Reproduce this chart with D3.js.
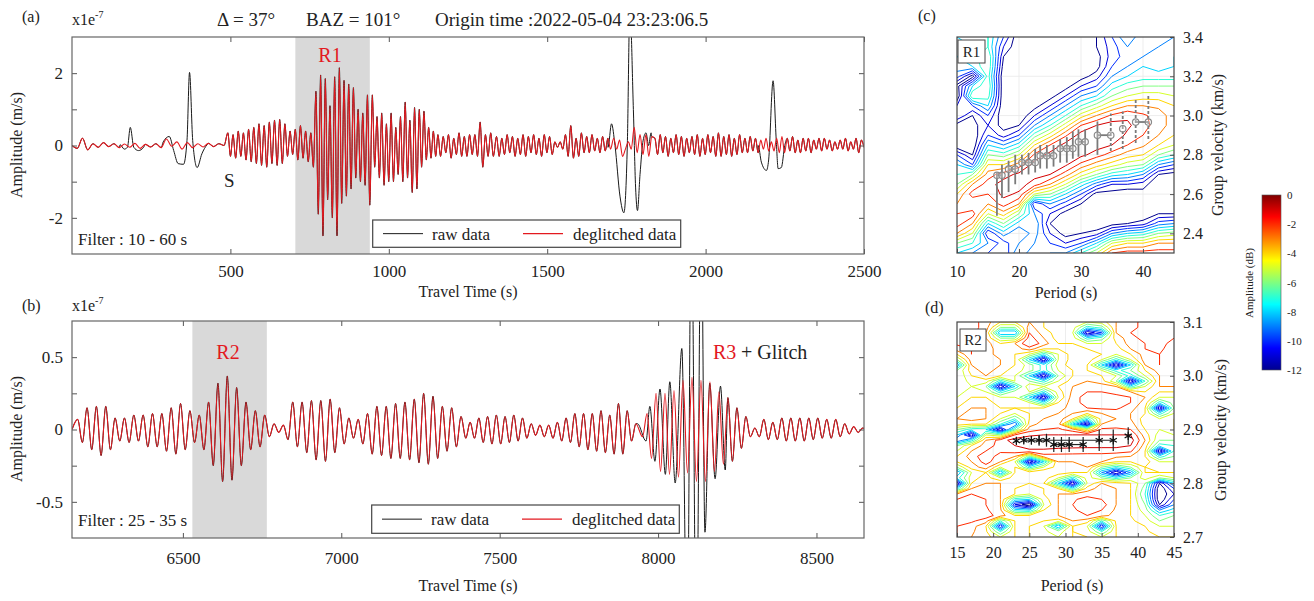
<!DOCTYPE html>
<html>
<head>
<meta charset="utf-8">
<script src="https://cdn.jsdelivr.net/npm/d3@7"></script>
<style>
  body { margin: 0; background: #fff; }
  svg, svg text { font-family: "Liberation Serif", "DejaVu Serif", serif; }
</style>
</head>
<body>
<svg id="fig" width="1314" height="601"></svg>
<script>
var SERIF = '"Liberation Serif","DejaVu Serif",serif';

// ---------- panel (a): deglitched trace, extrema per time window ----------
var redA = [
  {t0: 0, t1: 480, v: [0,-0.08,0.2,-0.12,0.05,-0.05,0.08,-0.03,0.05,-0.06,0.04,-0.05,0.06,-0.08,0.03,-0.04,0.05,-0.06,0.18,-0.02,0.1,-0.1,0.08,-0.06,0.05,-0.04,0.06,-0.03,0.05,0]},
  {t0: 492, t1: 762, v: [0.35,-0.3,0.3,-0.35,0.4,-0.3,0.35,-0.4,0.45,-0.45,0.5,-0.5,0.6,-0.55,0.55,-0.6,0.65,-0.5,0.7,-0.55,0.72,-0.5,0.6,-0.3,0.4,-0.25,0.45,-0.4,0.55,-0.35,0.4,-0.45,0.35,-0.6]},
  {t0: 770, t1: 940, v: [1.5,-1.9,1.95,-2.5,1.85,-1.5,1.1,-2.0,1.9,-2.5,2.15,-1.6,1.8,-1.4,1.7,-1.2,1.6,-0.9,1.0,-1.0,0.9,-1.1,1.4,-1.65]},
  {t0: 948, t1: 1148, v: [1.4,-0.6,0.8,-0.9,0.9,-1.1,0.6,-1.0,0.9,-1.0,0.5,-0.8,0.8,-1.0,1.2,-0.9,0.7,-1.3,1.05,-1.2,1.0,-0.6,0.95,-0.4,0.5,-0.35,0.4,-0.3]},
  {t0: 1155, t1: 1330, v: [0.3,-0.3,0.25,-0.2,0.3,-0.35,0.2,-0.25,0.35,-0.3,0.25,-0.3,0.3,-0.25,0.3,-0.3,0.65,-0.6,0.3,-0.3,0.35,-0.3]},
  {t0: 1340, t1: 1700, v: [0.25,-0.3,0.2,-0.25,0.3,-0.2,0.25,-0.3,0.2,-0.25,0.3,-0.3,0.25,-0.2,0.3,-0.25,0.2,-0.3,0.3,-0.2,0.25,-0.25,0.1,-0.05,0.1,-0.1,0.3,-0.3,0.55,-0.35,0.2,-0.3,0.35,-0.2,0.25,-0.2,0.3,-0.15,0.2,-0.2,0.25,-0.15,0.2,-0.1]},
  {t0: 1710, t1: 1830, v: [0.2,-0.1,0.15,-0.3,-0.1,0.1,-0.1,0.5,-0.2,0.3,-0.25,0.3,-0.3,0.25]},
  {t0: 1840, t1: 2500, v: [0.2,-0.25,0.3,-0.2,0.25,-0.3,0.2,-0.2,0.3,-0.25,0.25,-0.3,0.2,-0.2,0.25,-0.25,0.3,-0.3,0.2,-0.25,
                           0.3,-0.2,0.25,-0.3,0.35,-0.3,0.25,-0.25,0.3,-0.3,0.2,-0.25,0.3,-0.2,0.2,-0.2,0.25,-0.15,0.2,-0.2,
                           0.15,-0.1,0.2,-0.15,0.1,-0.15,0.2,-0.2,0.25,-0.2,0.2,-0.15,0.25,-0.2,0.15,-0.2,0.2,-0.15,0.2,-0.2,
                           0.15,-0.1,0.2,-0.15,0.2,-0.1,0.15,-0.15,0.1,-0.1,0.15,-0.1,0.2,-0.15,0.1,-0.1,0.2,-0.2,0.15,-0.05]}
];
// raw data where it departs from the deglitched trace: [time, amplitude]
var glitchA = [
  [[152,0.02],[165,-0.1],[175,-0.05],[184,0.5],[195,-0.05],[210,-0.14],[226,-0.05]],
  [[288,0.1],[307,0.25],[321,-0.14],[335,-0.5],[352,-0.52],[363,0.14],[371,2.02],[381,0.14],[395,-0.61],[410,-0.23],[426,0.02]],
  [[1692,-0.05],[1703,0.6],[1714,0],[1730,-1.42],[1742,-1.86],[1753,0.05],[1761,3.8],[1772,1.0],[1779,-1.15],[1785,-1.8],[1793,-0.8],[1803,0.15],[1812,0.35],[1820,0.0],[1828,0.35]],
  [[2166,0],[2176,-0.46],[2192,-0.69],[2199,-0.4],[2213,1.79],[2223,0.14],[2229,-0.64],[2239,-0.61],[2250,0]]
];

// ---------- panel (b) ----------
var redB = [
  {t0: 6150, t1: 6150, v: [0]},
  {t0: 6168, t1: 7378, v: [0.07,-0.09,0.15,-0.14,0.16,-0.18,0.16,-0.14,0.08,-0.08,0.08,-0.09,0.10,-0.08,0.10,-0.12,0.11,-0.12,0.11,-0.15,
                           0.15,-0.17,0.18,-0.14,0.13,-0.09,0.10,-0.14,0.19,-0.25,0.32,-0.36,0.37,-0.35,0.29,-0.25,0.19,-0.14,0.13,-0.12,
                           0.10,-0.05,0.04,-0.02,0.03,-0.07,0.19,-0.12,0.19,-0.16,0.20,-0.21,0.20,-0.22,0.21,-0.16,0.15,-0.10,0.08,-0.06,
                           0.07,-0.10,0.11,-0.17,0.16,-0.18,0.16,-0.20,0.18,-0.20,0.19,-0.21,0.21,-0.23,0.25,-0.24,0.23,-0.20,0.16,-0.15,
                           0.15,-0.12,0.09]},
  {t0: 7393, t1: 7930, v: [-0.06,0.05,-0.06,0.08,-0.09,0.09,-0.10,0.10,-0.10,0.09,-0.09,0.10,-0.08,0.08,-0.06,0.04,-0.04,0.03,-0.05,0.03,
                           -0.06,0.05,-0.08,0.08,-0.09,0.11,-0.12,0.11,-0.14,0.11,-0.15,0.13,-0.16,0.10,-0.17,0.18,-0.17,0.13,-0.08,0.04]},
  {t0: 7951, t1: 8660, v: [-0.05,0.11,-0.20,0.25,-0.29,0.25,-0.31,0.27,-0.33,0.34,-0.30,0.36,-0.36,0.34,-0.36,0.33,-0.29,0.26,-0.24,0.22,
                           -0.22,0.15,-0.13,0.09,-0.05,0.01,-0.05,0.07,-0.07,0.05,-0.07,0.08,-0.08,0.08,-0.08,0.08,-0.08,0.08,-0.07,0.08,
                           -0.06,0.07,-0.06,0.07,-0.05,0.04,-0.03,0.02,-0.02,0.01,-0.01]}
];
var glitchB = [
  [[7935,0.04],[7962,-0.08],[7974,0.16],[7990,-0.22],[8006,0.28],[8023,-0.31],[8037,0.33],[8054,-0.37],[8075,0.56],
   [8092,-1.6],[8105,1.6],[8121,-1.6],[8136,1.6],[8148,-0.71],[8163,0.32],[8180,-0.34],[8197,0.3],[8212,-0.28]]
];

var shadeA = [705, 940], shadeB = [6530, 6765];
var xTicksA = [500, 1000, 1500, 2000, 2500], xTicksB = [6500, 7000, 7500, 8000, 8500];
var yTicksA = [-2, -1, 0, 1, 2], yTicksB = [-0.5, -0.25, 0, 0.25, 0.5];

// ---------- panel (c): amplitude (dB), one column per period 10..45 step 2.5, velocity 3.40 -> 2.30 step 0.05 ----------
var cPeriods = [10,12.5,15,17.5,20,22.5,25,27.5,30,32.5,35,37.5,40,42.5,45];
var cGrid = [
  [-8,-8.5,-8,-8.5,-9.5,-12.5,-13,-11,-10,-12.5,-13,-13,-10,-8,-7,-6,-4,-3,-2,-1.5,-3,-6,-8],
  [-7.5,-8,-7.5,-8,-12.5,-8,-6,-10,-12,-12.5,-13,-13,-12,-10,-6,-3,-1.5,-3,-1.5,-3,-5,-7,-9],
  [-7,-7,-6,-6,-6.5,-6,-6.5,-8,-10,-11,-10,-8,-6,-4,-2.5,-1.5,-2,-3,-5,-8,-11,-9,-10],
  [-10,-11,-12,-12.5,-13,-13,-13,-13,-13,-12.5,-11.5,-9,-6.5,-4,-1.5,-0.5,-0.7,-1.5,-3.5,-6,-8.5,-10.5,-11],
  [-13,-13,-13,-13,-13,-13,-13,-13,-13,-12,-10,-7.5,-5,-2.5,-0.7,-0.5,-1.2,-3,-6,-8.5,-10,-9,-8],
  [-13,-13,-13,-13,-13,-13,-13,-12.5,-11,-9,-6.5,-4,-1.8,-0.5,-0.6,-1.5,-5,-11,-9,-8,-8.5,-9,-10],
  [-13,-13,-13,-13,-13,-13,-12.5,-11,-9,-7,-4.5,-2,-0.6,-0.4,-1,-3,-6,-9,-11,-12,-11,-10,-9],
  [-13,-13,-13,-13,-13,-12.5,-11,-9,-7,-4.5,-2.2,-0.6,-0.3,-0.8,-2.5,-5,-8,-10.5,-12.5,-13,-12.5,-11,-9],
  [-13,-13,-13,-13,-12.5,-11,-9,-7,-4.5,-2,-0.5,-0.2,-0.7,-2.3,-4.5,-7.5,-10,-12,-13,-13,-12,-10,-7],
  [-12,-12,-12.5,-12.5,-11.5,-10,-8,-5.5,-3,-1,-0.2,-0.5,-1.5,-3.5,-6,-9.5,-12.5,-13,-13,-13,-11.5,-8,-5],
  [-10,-10.5,-10.5,-10,-9,-7.5,-6,-4,-1.8,-0.5,-0.3,-1,-2.5,-4.5,-7.5,-11,-12.5,-13,-13,-12.5,-9,-5,-2],
  [-8,-9,-9.5,-9,-8,-6.5,-5,-3,-1.2,-0.8,-1.2,-2,-3.5,-5.5,-8,-11,-13,-13,-13,-12,-8,-4,-1.5],
  [-10,-9.5,-9,-8,-7.5,-6,-4.5,-3,-1.8,-1.6,-2,-2.8,-4,-6,-9,-11.5,-12.5,-13,-13,-11.5,-7.5,-4,-1.5],
  [-9.5,-9,-8.5,-8.5,-7.5,-6,-4.5,-3.2,-2.5,-2.5,-3,-4,-6,-9,-12,-13,-13,-13,-12,-9.5,-6,-3,-1.5],
  [-9,-8.5,-8,-8,-7.5,-6,-5,-4,-3.5,-3.5,-4,-5,-7,-10,-12.5,-13,-13,-13,-12,-9,-5.5,-3,-1.5]
];
var cPer = [16.44,17.25,18.32,19.39,20.47,21.54,22.61,23.42,24.49,25.57,26.64,27.71,28.68,29.59,30.67,32.65,34.80,36.73,38.82,40.86];
var cVel = [2.696,2.696,2.727,2.727,2.761,2.761,2.761,2.795,2.795,2.795,2.832,2.832,2.832,2.866,2.866,2.9,2.9,2.933,2.967,2.967];
var cLo  = [2.49,2.58,2.61,2.65,2.70,2.70,2.71,2.73,2.73,2.74,2.76,2.76,2.78,2.79,2.79,2.80,2.82,2.83,2.86,2.88];
var cHi  = [2.71,2.75,2.77,2.80,2.80,2.81,2.83,2.85,2.85,2.85,2.88,2.89,2.92,2.93,2.93,2.97,3.01,3.02,3.08,3.11];
var cDashed = [0,0,0,0,0,0,0,0,0,0,0,0,0,0,0,0,1,1,1,1];

// ---------- panel (d): one row per velocity 3.10 -> 2.70 step 0.01, period 15..45 step 2 ----------
var dPeriods = [15,17,19,21,23,25,27,29,31,33,35,37,39,41,43,45];
var dGrid = [
  [-1.5,-1.5,-2.5,-4,-4,-3,-4,-4.5,-4,-5,-4.5,-3,-2.5,-1.5,-1.2,-1.5],
  [-1.3,-1.5,-2.5,-6,-6,-2.5,-4,-4.5,-4.5,-7.5,-6.5,-3,-2.5,-1.5,-1,-1.5],
  [-1.2,-1.5,-3,-9,-9,-2,-3.5,-4.5,-5,-12,-10,-3,-2,-1.5,-1,-2],
  [-1.3,-1.5,-3,-6,-6,-1.5,-3,-4.5,-4.5,-7.5,-6.5,-3.5,-2.5,-1.5,-1.2,-2],
  [-1.8,-1.5,-2.5,-4,-3,-1,-2.5,-4,-4,-5,-5,-4,-2.5,-2,-1.5,-2.5],
  [-2.5,-2,-2.5,-3.5,-3.5,-2.5,-4,-4,-3.8,-4,-4.5,-4.5,-3,-2,-1.8,-2.5],
  [-4,-2,-2.5,-3.5,-4,-5,-7.5,-5,-3.5,-3.5,-4,-5,-4,-2.5,-2,-2.5],
  [-6,-2.5,-2,-3,-4,-8,-12,-5,-3.5,-3.5,-5,-7.5,-5,-2.5,-2,-2.5],
  [-9,-3,-2,-3,-4,-5.5,-7.5,-4.5,-3.5,-4,-8,-12,-8,-3,-2,-2.5],
  [-6,-3.5,-2.5,-3.5,-4.5,-5.5,-7.5,-5,-4,-4,-5,-7.5,-6,-4,-2.5,-2.5],
  [-6,-4,-3,-4,-5,-8,-12,-6,-4,-3.5,-4,-5,-7.5,-5,-3,-2.5],
  [-6,-4.5,-4.5,-7.5,-5,-6,-7.5,-5,-3.5,-3,-3.5,-6,-12,-7,-3,-3],
  [-6,-5,-6,-12,-8,-4,-5,-4,-3,-2.5,-2.5,-3,-7.5,-5,-3,-3],
  [-5.5,-4.5,-5,-7.5,-5.5,-5,-7.5,-4.5,-2.8,-2,-2,-2.5,-3,-4,-4,-4],
  [-5,-4,-4,-5,-5,-8,-12,-5,-2.5,-1.5,-1.2,-1.5,-2,-3,-5,-5],
  [-4.5,-3.5,-3.5,-4.5,-4.5,-5,-7.5,-4,-2.5,-1.5,-1.2,-1.4,-2,-3.5,-7.5,-5.5],
  [-4,-3,-3,-4,-4,-4,-4,-3.5,-2.5,-2,-1.8,-1.8,-2.5,-4,-12,-6],
  [-3.5,-2.5,-3,-4,-5,-4,-3.5,-3,-3,-4,-3,-2.5,-3,-4,-7.5,-5],
  [-3,-2.5,-3,-5,-7,-4,-3,-2.5,-4,-7.5,-3.5,-3,-3,-4.5,-5,-4],
  [-3.5,-4,-4,-7,-10,-3.5,-2.5,-2.5,-8,-12,-3,-2.5,-2.5,-4.5,-5,-4],
  [-6,-7.5,-8,-12,-6.5,-2.5,-2,-1.8,-2.5,-5,-1.8,-1.8,-2,-4,-5,-4],
  [-8,-12,-5,-6,-2,-1.2,-1,-1,-1,-1,-1,-1,-1,-3.5,-5.5,-5],
  [-10,-7.5,-3,-1.5,-0.5,-0.3,-0.4,-0.5,-0.5,-0.4,-0.4,-0.3,-0.5,-3,-6,-6],
  [-6,-4,-2.5,-1.6,-1,-0.6,-0.6,-0.7,-0.7,-0.7,-0.7,-0.7,-1,-3.5,-7.5,-7],
  [-5,-3,-2,-1.8,-1.5,-1.2,-1.2,-1.3,-1.4,-1.5,-1.5,-1.5,-1.8,-4,-12,-7],
  [-4,-2.5,-1.3,-2.5,-3,-6.5,-2.5,-2.5,-2.5,-2.5,-2.5,-2.8,-3,-4,-7.5,-6],
  [-4,-3,-1.5,-3,-5,-12,-8,-3,-3,-2.5,-3,-4,-4,-3.5,-5,-5],
  [-6,-3.5,-2.5,-5,-4,-7.5,-5,-3.5,-3.5,-3,-6,-7.5,-6,-4,-4.5,-4.5],
  [-9,-5,-4,-9,-4,-3.5,-3,-3.5,-4,-4,-9,-12,-9,-4,-4,-4],
  [-7.5,-4.5,-3.5,-5,-3.5,-3.5,-3.5,-5,-7.5,-4.5,-6,-7.5,-6,-4.5,-6,-5],
  [-12,-4,-3,-3,-3.5,-4,-4,-8,-12,-5,-3,-3.5,-4,-6,-12,-8],
  [-7.5,-3,-2.5,-3,-4,-4.5,-4,-4,-7.5,-3.5,-2.5,-3,-4,-6.5,-13,-10],
  [-3,-2,-2.5,-3,-4,-5,-4,-3,-3,-2.5,-2.5,-3,-4,-7,-13,-11],
  [-2,-1.8,-2,-3,-7.5,-8,-4.5,-3,-2.2,-1.5,-2,-3,-4,-6.5,-13,-10],
  [-1.5,-1.5,-2,-3,-11,-13,-5,-3,-2,-1,-1.5,-3,-4,-6,-12,-9],
  [-1.4,-1.3,-1.8,-2.8,-7.5,-8,-4,-3,-2.2,-1.5,-2,-3.2,-4,-5.5,-9,-7.5],
  [-1.5,-1.2,-1.5,-2.5,-4,-4,-3.5,-3,-2.5,-2,-2.5,-3.5,-4,-5,-7,-6],
  [-1.8,-1.8,-2.5,-7,-4,-4,-4,-4.5,-3,-3.5,-7,-3.8,-3.8,-4.5,-6,-5.5],
  [-2,-2.5,-4,-11,-4,-4,-5,-9,-4,-5,-11,-4,-3.5,-4,-5,-5],
  [-2,-2.8,-3.8,-7,-4,-4,-4.8,-5.5,-4,-4.5,-7,-4,-3.5,-3.8,-4.5,-4.5],
  [-2,-3,-3.5,-5,-4,-4,-4.5,-5,-4,-4,-5,-4,-3.5,-3.5,-4,-4]
];
var dPer = [23.21,24.23,25.29,26.35,27.37,28.38,29.44,30.51,32.44,34.66,36.6,38.67];
var dVel = [2.879,2.880,2.880,2.880,2.880,2.872,2.872,2.872,2.872,2.880,2.880,2.888];
var dErr = [0.006,0.006,0.008,0.01,0.012,0.014,0.014,0.014,0.014,0.02,0.02,0.016];

var levels = [-12,-11,-10,-9,-8,-7,-6,-5,-4,-3,-2,-1];
var cbTicks = [0,-2,-4,-6,-8,-10,-12];

// ---------------------------------------------------------------
var svg = d3.select("#fig").attr("font-family", SERIF);
var defs = svg.append("defs");
var jet = d3.scaleLinear().domain([-12,-10.5,-7.5,-4.5,-1.5,0])
  .range(["#00008f","#0000ff","#00ffff","#ffff00","#ff0000","#800000"]).clamp(true);

function expand(segs) {
  var pts = [];
  segs.forEach(function(s) {
    var n = s.v.length, dt = n > 1 ? (s.t1 - s.t0) / (n - 1) : 0;
    s.v.forEach(function(v, i) { pts.push([s.t0 + i * dt, v]); });
  });
  return pts;
}
function withGlitches(red, wins) {
  var out = red.slice();
  wins.forEach(function(w) {
    var a = w[0][0], b = w[w.length - 1][0];
    out = out.filter(function(p) { return p[0] < a || p[0] > b; }).concat(w);
  });
  return out.sort(function(p, q) { return p[0] - q[0]; });
}
function clip(id, x0, y0, x1, y1) {
  defs.append("clipPath").attr("id", id).append("rect")
    .attr("x", x0).attr("y", y0).attr("width", x1 - x0).attr("height", y1 - y0);
}
function styleAxis(g, fs) {
  g.select(".domain").remove();
  g.attr("font-family", SERIF).attr("font-size", fs);
  g.selectAll(".tick line").attr("stroke", "#555");
  g.selectAll(".tick text").attr("fill", "#222");
}
function txt(x, y, s, size, opt) {
  opt = opt || {};
  var t = svg.append("text").attr("x", x).attr("y", y).attr("font-size", size).attr("font-family", SERIF)
    .attr("text-anchor", opt.anchor || "start").attr("fill", opt.fill || "#222").text(s);
  if (opt.rot) t.attr("transform", "rotate(-90," + x + "," + y + ")");
  return t;
}

function wavePanel(id, box, xDom, yDom, xTicks, yTicks, yLab, redSegs, glitches, shade, xPad) {
  var x = d3.scaleLinear().domain(xDom).range([box.x0, box.x1]);
  var y = d3.scaleLinear().domain(yDom).range([box.y1, box.y0]);
  clip(id, box.x0, box.y0, box.x1, box.y1);
  var g = svg.append("g");
  g.append("rect").attr("x", x(shade[0])).attr("y", box.y0)
    .attr("width", x(shade[1]) - x(shade[0])).attr("height", box.y1 - box.y0).attr("fill", "#d9d9d9");
  var red = expand(redSegs), raw = withGlitches(red, glitches);
  var line = d3.line().x(function(d) { return x(d[0]); }).y(function(d) { return y(d[1]); }).curve(d3.curveMonotoneX);
  var pg = g.append("g").attr("clip-path", "url(#" + id + ")");
  pg.append("path").attr("d", line(raw)).attr("fill", "none").attr("stroke", "#1a1a1a").attr("stroke-width", 1);
  pg.append("path").attr("d", line(red)).attr("fill", "none").attr("stroke", "#e3191f").attr("stroke-width", 1.1);

  var fmt = function(d) { return yLab.indexOf(d) >= 0 ? String(d) : ""; };
  styleAxis(g.append("g").attr("transform", "translate(0," + box.y1 + ")")
    .call(d3.axisBottom(x).tickValues(xTicks).tickSize(-5).tickPadding(xPad).tickFormat(function(d) { return String(d); })), 17);
  styleAxis(g.append("g").attr("transform", "translate(0," + box.y0 + ")")
    .call(d3.axisTop(x).tickValues(xTicks).tickSize(-5).tickFormat("")), 17);
  styleAxis(g.append("g").attr("transform", "translate(" + box.x0 + ",0)")
    .call(d3.axisLeft(y).tickValues(yTicks).tickSize(-5).tickPadding(9).tickFormat(fmt)), 17);
  styleAxis(g.append("g").attr("transform", "translate(" + box.x1 + ",0)")
    .call(d3.axisRight(y).tickValues(yTicks).tickSize(-5).tickFormat("")), 17);
  g.append("rect").attr("x", box.x0).attr("y", box.y0).attr("width", box.x1 - box.x0)
    .attr("height", box.y1 - box.y0).attr("fill", "none").attr("stroke", "#666").attr("stroke-width", 1.2);
  return {x: x, y: y};
}

function legend(bx0, by0, bx1, by1, l1, l2) {
  svg.append("rect").attr("x", bx0).attr("y", by0).attr("width", bx1 - bx0).attr("height", by1 - by0)
    .attr("fill", "#fff").attr("stroke", "#444").attr("stroke-width", 1.2);
  var ym = (by0 + by1) / 2;
  svg.append("line").attr("x1", l1).attr("x2", l1 + 40).attr("y1", ym).attr("y2", ym).attr("stroke", "#1a1a1a");
  txt(l1 + 49, ym + 6, "raw data", 17);
  svg.append("line").attr("x1", l2).attr("x2", l2 + 40).attr("y1", ym).attr("y2", ym).attr("stroke", "#e3191f").attr("stroke-width", 1.2);
  txt(l2 + 50, ym + 6, "deglitched data", 17);
}

// ---------- (a) ----------
var boxA = {x0: 72, x1: 864, y0: 37, y1: 254};
wavePanel("clipA", boxA, [0, 2500], [-3, 3], xTicksA, yTicksA, [-2, 0, 2], redA, glitchA, shadeA, 11);
legend(372.7, 220, 680.7, 247.3, 383, 523);
txt(22, 22, "(a)", 16);
var e1 = txt(72, 25, "x1e", 16); e1.append("tspan").attr("dy", -7).attr("font-size", 10).text("-7");
txt(217, 26, "\u0394 = 37\u00b0", 19);
txt(306, 26, "BAZ = 101\u00b0", 19);
txt(435, 26, "Origin time :2022-05-04 23:23:06.5", 19);
txt(224, 187, "S", 19);
txt(330, 62, "R1", 20, {anchor: "middle", fill: "#e3191f"});
txt(78, 245, "Filter : 10 - 60 s", 17);
txt(22, 145, "Amplitude (m/s)", 16, {anchor: "middle", rot: true});
txt(468, 297, "Travel Time (s)", 16, {anchor: "middle"});

// ---------- (b) ----------
var boxB = {x0: 72, x1: 864, y0: 321, y1: 538};
wavePanel("clipB", boxB, [6150, 8650], [-0.75, 0.75], xTicksB, yTicksB, [-0.5, 0, 0.5], redB, glitchB, shadeB, 14);
legend(371.7, 505, 679.3, 533.3, 382, 522);
txt(22, 311, "(b)", 16);
var e2 = txt(72, 311, "x1e", 16); e2.append("tspan").attr("dy", -7).attr("font-size", 10).text("-7");
txt(228, 359, "R2", 20, {anchor: "middle", fill: "#e3191f"});
txt(713, 359, "R3", 20, {fill: "#e3191f"});
txt(741, 359, "+ Glitch", 20);
txt(78, 526, "Filter : 25 - 35 s", 17);
txt(22, 429, "Amplitude (m/s)", 16, {anchor: "middle", rot: true});
txt(468, 591, "Travel Time (s)", 16, {anchor: "middle"});

// ---------- contour panels ----------
function contourPanel(id, box, xDom, yDom, rows, nx, ny, p0, dp, v0, dv, xTicks, yTicks, xPad, grid) {
  var x = d3.scaleLinear().domain(xDom).range([box.x0, box.x1]);
  var y = d3.scaleLinear().domain(yDom).range([box.y1, box.y0]);
  clip(id, box.x0, box.y0, box.x1, box.y1);
  var g = svg.append("g");
  var gg = g.append("g").attr("stroke", "#e8e8e8").attr("stroke-width", 0.8);
  grid[0].forEach(function(p) { gg.append("line").attr("x1", x(p)).attr("x2", x(p)).attr("y1", box.y0).attr("y2", box.y1); });
  grid[1].forEach(function(v) { gg.append("line").attr("y1", y(v)).attr("y2", y(v)).attr("x1", box.x0).attr("x2", box.x1); });
  var cs = d3.contours().size([nx, ny]).thresholds(levels)(rows);
  var proj = d3.geoTransform({point: function(gx, gy) {
    this.stream.point(x(p0 + (gx - 0.5) * dp), y(v0 - (gy - 0.5) * dv));
  }});
  g.append("g").attr("clip-path", "url(#" + id + ")").selectAll("path").data(cs).join("path")
    .attr("d", d3.geoPath(proj)).attr("fill", "none")
    .attr("stroke", function(d) { return jet(d.value); }).attr("stroke-width", 1);
  styleAxis(g.append("g").attr("transform", "translate(0," + box.y1 + ")")
    .call(d3.axisBottom(x).tickValues(xTicks).tickSize(-4).tickPadding(xPad).tickFormat(function(d) { return String(d); })), 16);
  styleAxis(g.append("g").attr("transform", "translate(" + box.x1 + ",0)")
    .call(d3.axisRight(y).tickValues(yTicks).tickSize(-4).tickPadding(9).tickFormat(d3.format(".1f"))), 16);
  g.append("rect").attr("x", box.x0).attr("y", box.y0).attr("width", box.x1 - box.x0)
    .attr("height", box.y1 - box.y0).attr("fill", "none").attr("stroke", "#444").attr("stroke-width", 1.2);
  return {x: x, y: y};
}

// (c)
var boxC = {x0: 957, x1: 1174, y0: 37, y1: 253};
var cRows = [];
for (var j = 0; j < cGrid[0].length; j++) for (var i = 0; i < cPeriods.length; i++) cRows.push(cGrid[i][j]);
var sc = contourPanel("clipC", boxC, [10, 45], [2.3, 3.4], cRows, cPeriods.length, cGrid[0].length,
  cPeriods[0], cPeriods[1] - cPeriods[0], 3.40, 0.05, [10, 20, 30, 40], [2.4, 2.6, 2.8, 3.0, 3.2, 3.4],
  13, [[20, 30, 40], [2.4, 2.6, 2.8, 3.0, 3.2]]);
var mc = svg.append("g");
cPer.forEach(function(p, i) {
  mc.append("line").attr("x1", sc.x(p)).attr("x2", sc.x(p)).attr("y1", sc.y(cLo[i])).attr("y2", sc.y(cHi[i]))
    .attr("stroke", "#7a7a7a").attr("stroke-width", 1.8).attr("stroke-dasharray", cDashed[i] ? "3,2" : null);
});
var cg = d3.groups(cPer.map(function(p, i) { return [p, cVel[i]]; }), function(d) { return d[1]; });
cg.forEach(function(grp) {
  mc.append("path").attr("d", d3.line().x(function(d) { return sc.x(d[0]); }).y(function(d) { return sc.y(d[1]); })(grp[1]))
    .attr("fill", "none").attr("stroke", "#7a7a7a").attr("stroke-width", 1.8);
});
cPer.forEach(function(p, i) {
  mc.append("circle").attr("cx", sc.x(p)).attr("cy", sc.y(cVel[i])).attr("r", 3.2)
    .attr("fill", "#fff").attr("fill-opacity", 0.3).attr("stroke", "#8a8a8a").attr("stroke-width", 1.2);
});
svg.append("rect").attr("x", 958).attr("y", 40).attr("width", 27).attr("height", 23).attr("fill", "#fff").attr("stroke", "#444");
txt(971.5, 57, "R1", 15, {anchor: "middle"});
txt(918, 21, "(c)", 16);
txt(1066, 298, "Period (s)", 16, {anchor: "middle"});
txt(1223, 145, "Group velocity (km/s)", 16, {anchor: "middle", rot: true});

// (d)
var boxD = {x0: 957, x1: 1174, y0: 322, y1: 537};
var dRows = [].concat.apply([], dGrid);
var sd = contourPanel("clipD", boxD, [15, 45], [2.7, 3.1], dRows, dPeriods.length, dGrid.length,
  dPeriods[0], dPeriods[1] - dPeriods[0], 3.10, 0.01, [15, 20, 25, 30, 35, 40, 45], [2.7, 2.8, 2.9, 3.0, 3.1],
  10, [[20, 25, 30, 35, 40], [2.8, 2.9, 3.0]]);
var md = svg.append("g");
var dg = d3.groups(dPer.map(function(p, i) { return [p, dVel[i]]; }), function(d) { return d[1]; });
dg.forEach(function(grp) {
  md.append("path").attr("d", d3.line().x(function(d) { return sd.x(d[0]); }).y(function(d) { return sd.y(d[1]); })(grp[1]))
    .attr("fill", "none").attr("stroke", "#222").attr("stroke-width", 1.2);
});
var star = d3.symbol().type(d3.symbolAsterisk || d3.symbolCross).size(48);
dPer.forEach(function(p, i) {
  md.append("line").attr("x1", sd.x(p)).attr("x2", sd.x(p))
    .attr("y1", sd.y(dVel[i] - dErr[i])).attr("y2", sd.y(dVel[i] + dErr[i])).attr("stroke", "#222").attr("stroke-width", 1.2);
  md.append("path").attr("d", star()).attr("transform", "translate(" + sd.x(p) + "," + sd.y(dVel[i]) + ")")
    .attr("fill", "none").attr("stroke", "#111").attr("stroke-width", 1.2);
});
svg.append("rect").attr("x", 960).attr("y", 329).attr("width", 26).attr("height", 22).attr("fill", "#fff").attr("stroke", "#444");
txt(973, 345, "R2", 15, {anchor: "middle"});
txt(925, 313, "(d)", 16);
txt(1072, 591, "Period (s)", 16, {anchor: "middle"});
txt(1226, 430, "Group velocity (km/s)", 16, {anchor: "middle", rot: true});

// ---------- colour bar ----------
var cb = {x0: 1262, x1: 1281, y0: 195, y1: 370};
var yCb = d3.scaleLinear().domain([-12, 0]).range([cb.y1, cb.y0]);
var grad = defs.append("linearGradient").attr("id", "jetGrad").attr("x1", 0).attr("x2", 0).attr("y1", 1).attr("y2", 0);
jet.domain().forEach(function(d) {
  grad.append("stop").attr("offset", (d + 12) / 12).attr("stop-color", jet(d));
});
svg.append("rect").attr("x", cb.x0).attr("y", cb.y0).attr("width", cb.x1 - cb.x0).attr("height", cb.y1 - cb.y0)
  .attr("fill", "url(#jetGrad)").attr("stroke", "#555").attr("stroke-width", 0.6);
styleAxis(svg.append("g").attr("transform", "translate(" + cb.x1 + ",0)")
  .call(d3.axisRight(yCb).tickValues(cbTicks).tickSize(0).tickPadding(6).tickFormat(function(d) { return String(d); })), 11);
txt(1253, 283, "Amplitude (dB)", 11, {anchor: "middle", rot: true});
</script>
</body>
</html>
